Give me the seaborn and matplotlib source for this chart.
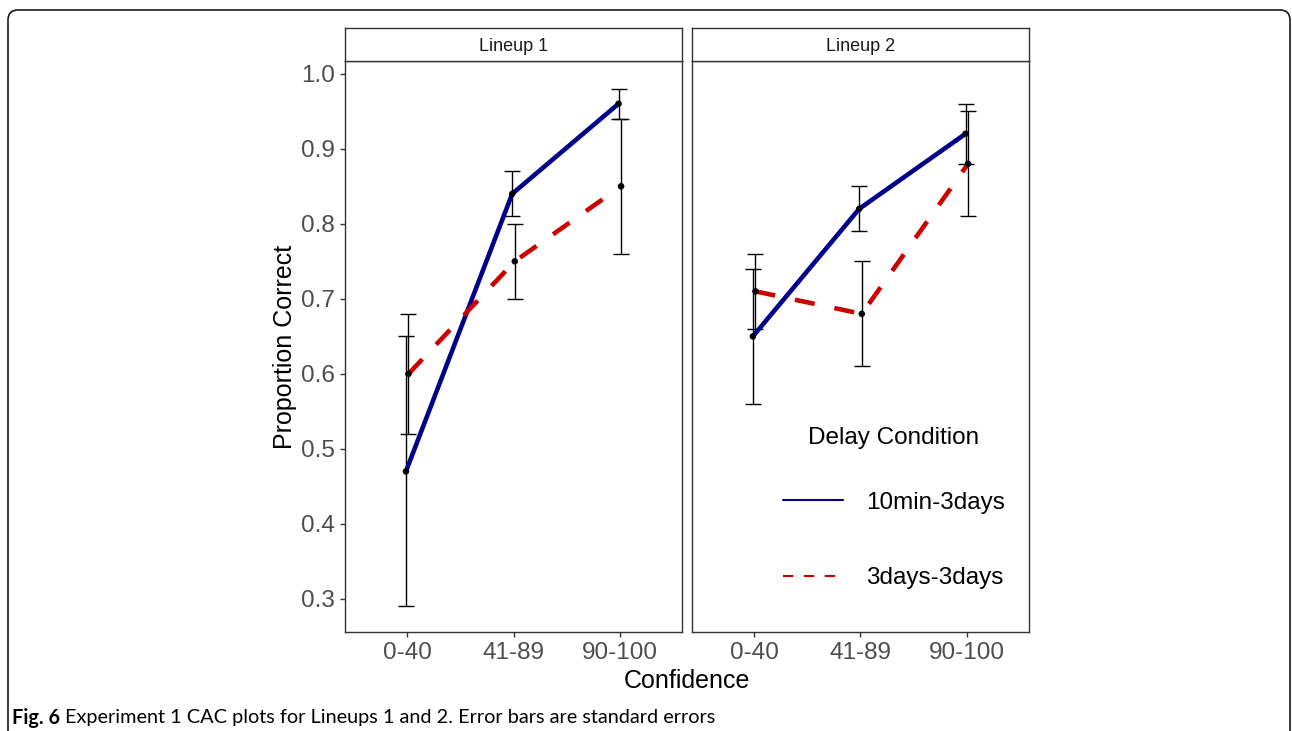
import numpy as np
import pandas as pd
import matplotlib
matplotlib.use("Agg")
import matplotlib.pyplot as plt
from matplotlib.patches import FancyBboxPatch
from matplotlib.lines import Line2D
import seaborn as sns

# ---------------- data ----------------
confidence = ["0-40", "41-89", "90-100"]
conditions = ["10min-3days", "3days-3days"]
panels = ["Lineup 1", "Lineup 2"]

l1_fast = [0.47, 0.84, 0.96]
l1_fast_lo = [0.29, 0.81, 0.94]
l1_fast_hi = [0.65, 0.87, 0.98]
l1_slow = [0.60, 0.75, 0.85]
l1_slow_lo = [0.52, 0.70, 0.76]
l1_slow_hi = [0.68, 0.80, 0.94]

l2_fast = [0.65, 0.82, 0.92]
l2_fast_lo = [0.56, 0.79, 0.88]
l2_fast_hi = [0.74, 0.85, 0.96]
l2_slow = [0.71, 0.68, 0.88]
l2_slow_lo = [0.66, 0.61, 0.81]
l2_slow_hi = [0.76, 0.75, 0.95]

y_ticks = [0.3, 0.4, 0.5, 0.6, 0.7, 0.8, 0.9, 1.0]

series = {
    "Lineup 1": {
        "10min-3days": (l1_fast, l1_fast_lo, l1_fast_hi),
        "3days-3days": (l1_slow, l1_slow_lo, l1_slow_hi),
    },
    "Lineup 2": {
        "10min-3days": (l2_fast, l2_fast_lo, l2_fast_hi),
        "3days-3days": (l2_slow, l2_slow_lo, l2_slow_hi),
    },
}

colors = {"10min-3days": "#00008B", "3days-3days": "#CD0000"}
dashes = {"10min-3days": "", "3days-3days": (4.4, 4.4)}
dodge = {"10min-3days": -0.012, "3days-3days": 0.012}

rows = []
for p in panels:
    for c in conditions:
        m, lo, hi = series[p][c]
        for i, cat in enumerate(confidence):
            rows.append(dict(panel=p, cond=c, cat=cat, xi=i + dodge[c],
                             y=m[i], lo=lo[i], hi=hi[i]))
df = pd.DataFrame(rows)

# ---------------- style ----------------
sns.set_theme(style="white")
plt.rcParams["font.family"] = ["Liberation Sans", "DejaVu Sans"]

W, H = 1292, 731
fig = plt.figure(figsize=(W / 100, H / 100), dpi=100)

def fx(px):
    return px / W

def fy(py):
    return 1 - py / H

panel_left = [345, 692]
panel_w = 337
top, bottom = 61, 632
strip_top = 28

axes = []
for k, p in enumerate(panels):
    ax = fig.add_axes([fx(panel_left[k]), fy(bottom), panel_w / W, (bottom - top) / H])
    sub = df[df.panel == p]
    # error bars
    for c in conditions:
        s = sub[sub.cond == c]
        ax.errorbar(s.xi, s.y, yerr=[s.y - s.lo, s.hi - s.y], fmt="none",
                    ecolor="black", elinewidth=1.0, capsize=5.5, capthick=1.0, zorder=2)
    sns.lineplot(data=sub, x="xi", y="y", hue="cond", style="cond",
                 palette=colors, dashes=dashes, hue_order=conditions,
                 style_order=conditions, linewidth=3.3, legend=False,
                 ax=ax, zorder=3, sort=False)
    for ln in ax.get_lines():
        ln.set_dash_capstyle("butt")
        ln.set_solid_capstyle("round")
    sns.scatterplot(data=sub, x="xi", y="y", color="black", s=22,
                    edgecolor="none", legend=False, ax=ax, zorder=4)
    ax.set_xlim(-0.585, 2.585)
    ax.set_ylim(0.256, 1.017)
    ax.set_xticks(range(len(confidence)))
    ax.set_xticklabels(confidence)
    ax.set_xlabel("")
    ax.set_ylabel("")
    ax.set_yticks(y_ticks)
    ax.set_yticklabels([f"{v:.1f}" for v in y_ticks])
    ax.tick_params(axis="both", which="major", labelsize=17.5, labelcolor="#4D4D4D",
                   color="#333333", length=3.8, width=1.0, direction="out", pad=3.5,
                   bottom=True, left=(k == 0), labelleft=(k == 0))
    for sp in ax.spines.values():
        sp.set_color("#333333")
        sp.set_linewidth(1.0)
        sp.set_visible(True)
    ax.set_facecolor("white")
    axes.append(ax)

    # strip
    sax = fig.add_axes([fx(panel_left[k]), fy(top), panel_w / W, (top - strip_top) / H])
    sax.set_xticks([]); sax.set_yticks([])
    sax.set_facecolor("white")
    for sp in sax.spines.values():
        sp.set_color("#333333")
        sp.set_linewidth(1.0)
    sax.text(0.5, 0.45, p, ha="center", va="center", fontsize=13, color="#1A1A1A",
             transform=sax.transAxes)

# axis titles
fig.text(fx(285), fy(347), "Proportion Correct", rotation=90, ha="center", va="center",
         fontsize=18, color="black")
fig.text(fx(687), fy(681), "Confidence", ha="center", va="center", fontsize=18,
         color="black")

# legend
handles = [Line2D([], [], color=colors["10min-3days"], linewidth=1.5),
           Line2D([], [], color=colors["3days-3days"], linewidth=1.5, dashes=(5, 5))]
leg = axes[1].legend(handles, conditions, title="Delay Condition", loc="center",
                     bbox_to_anchor=((894 - 692) / panel_w, (bottom - 508) / (bottom - top)),
                     frameon=False, fontsize=17.5, title_fontsize=17.5,
                     handlelength=2.47, handletextpad=0.95, labelspacing=2.2,
                     borderaxespad=0, labelcolor="black")
leg.get_title().set_color("black")
leg._legend_box.sep = 31

# caption
t1 = fig.text(fx(12), fy(718), "Fig. 6", ha="left", va="center", fontsize=14.3,
              fontweight="bold", family=["Lato", "DejaVu Sans"], color="black")
fig.canvas.draw()
bb = t1.get_window_extent()
fig.text((bb.x1 + 5) / W, fy(718), "Experiment 1 CAC plots for Lineups 1 and 2. Error bars are standard errors",
         ha="left", va="center", fontsize=14.3, family=["Lato", "DejaVu Sans"], color="black")

# frame
frame = FancyBboxPatch((0.08, -0.2), 12.82, 7.21 + 0.2,
                       boxstyle="round,pad=0,rounding_size=0.1",
                       transform=fig.dpi_scale_trans, facecolor="none",
                       edgecolor="#1A1A1A", linewidth=1.2)
fig.patches.append(frame)

fig.savefig("out.png", dpi=100)
